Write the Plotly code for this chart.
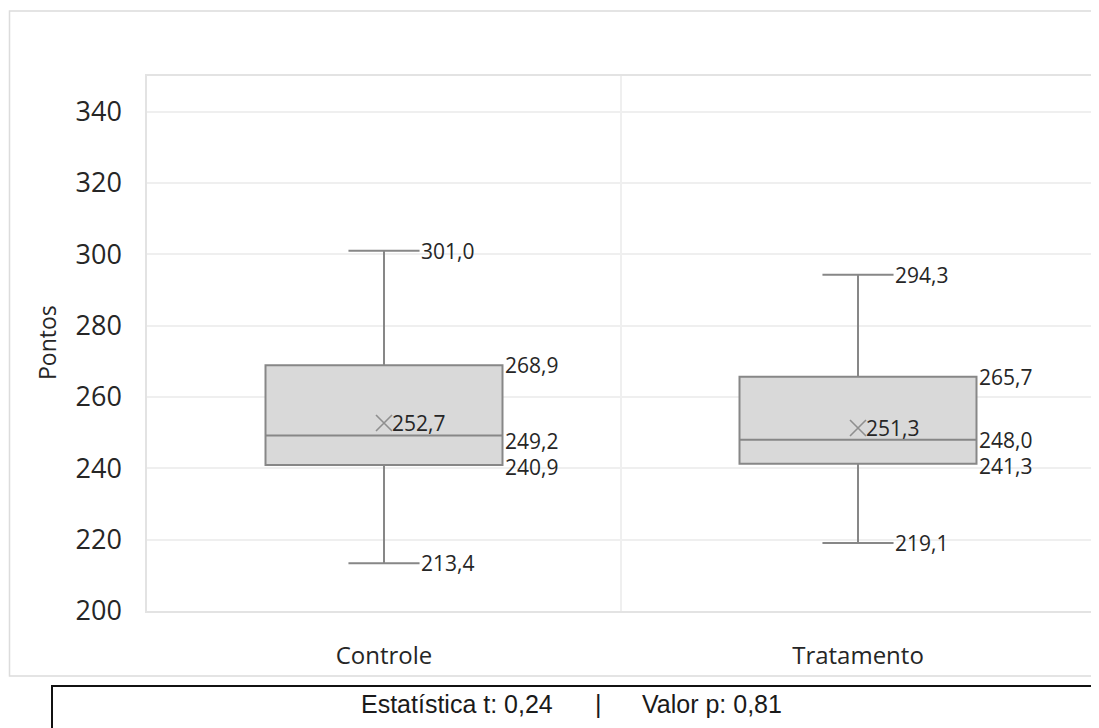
import plotly.graph_objects as go

# ---- data ----
categories = ["Controle", "Tratamento"]
minimo = [213.4, 219.1]
q1 = [240.9, 241.3]
mediana = [249.2, 248.0]
q3 = [268.9, 265.7]
maximo = [301.0, 294.3]
media = [252.7, 251.3]
y_ticks = [200, 220, 240, 260, 280, 300, 320, 340]
stat_left = "Estatística t: 0,24"
stat_right = "Valor p: 0,81"


def fmt(v):
    return f"{v:.1f}".replace(".", ",")


# the page body has an 8px margin; work in page pixels and compensate
OFF = 8
W, H = 1099 - OFF, 728 - OFF
L, R, T, B = 147 - OFF, 4, 76 - OFF, 117
PW, PH = W - L - R, H - T - B


def px(x):
    return (x - OFF - L) / PW


def py(y):
    return (H - B - (y - OFF)) / PH


fig = go.Figure()

fig.add_trace(go.Box(
    x=categories, q1=q1, median=mediana, q3=q3,
    lowerfence=minimo, upperfence=maximo,
    fillcolor="#d9d9d9", line=dict(color="#878787", width=2),
    width=0.5, whiskerwidth=0.3, boxpoints=False, hoverinfo="skip",
    showlegend=False,
))

fig.add_trace(go.Scatter(
    x=categories, y=media, mode="markers",
    marker=dict(symbol="x-thin", size=16, line=dict(color="#8f8f8f", width=1.6)),
    hoverinfo="skip", showlegend=False,
))

lab_font = dict(family="Open Sans", size=21, color="#262626")
med_shift = [-5, 0]
q1_shift = [-2, -2.5]
for i, c in enumerate(categories):
    specs = [
        (maximo[i], 36, 0),
        (q3[i], 120, 0),
        (mediana[i], 120, med_shift[i]),
        (q1[i], 120, q1_shift[i]),
        (minimo[i], 36, 0),
        (media[i], 7, 0),
    ]
    for val, xs, ys in specs:
        fig.add_annotation(x=c, y=val, text=fmt(val), showarrow=False,
                           xanchor="left", yanchor="middle", xshift=xs, yshift=ys,
                           font=lab_font, borderpad=0)

# y axis title
fig.add_annotation(xref="paper", yref="paper", x=px(47), y=py(343), text="Pontos",
                   textangle=-90, showarrow=False,
                   font=dict(family="Open Sans", size=23, color="#262626"),
                   xanchor="center", yanchor="middle")

# outer chart border
fig.add_shape(type="rect", xref="paper", yref="paper",
              x0=px(9.5), x1=px(1097), y0=py(676), y1=py(11),
              line=dict(color="#dcdcdc", width=1.5), layer="below")

# stats box
fig.add_shape(type="rect", xref="paper", yref="paper",
              x0=px(52), x1=px(1093), y0=py(742), y1=py(686),
              line=dict(color="#111111", width=2))
stat_font = dict(family="Liberation Sans", size=25, color="#1a1a1a")
fig.add_annotation(xref="paper", yref="paper", x=px(555), y=py(704), text=stat_left,
                   showarrow=False, xanchor="right", yanchor="middle", font=stat_font)
fig.add_annotation(xref="paper", yref="paper", x=px(598), y=py(704), text="|",
                   showarrow=False, xanchor="center", yanchor="middle", font=stat_font)
fig.add_annotation(xref="paper", yref="paper", x=px(640), y=py(704), text=stat_right,
                   showarrow=False, xanchor="left", yanchor="middle", font=stat_font)

fig.update_layout(
    width=W, height=H,
    margin=dict(l=L, r=R, t=T, b=B, autoexpand=False),
    paper_bgcolor="white", plot_bgcolor="white",
    xaxis=dict(type="category", tickson="boundaries", showgrid=True,
               gridcolor="#efefef", gridwidth=1.5,
               showline=True, linecolor="#e3e3e3", linewidth=1.5, mirror=True,
               ticks="", ticklabelstandoff=22,
               tickfont=dict(family="Open Sans", size=24, color="#262626"),
               range=[-0.5, 1.5]),
    yaxis=dict(range=[200, 350], tickvals=y_ticks, showgrid=True,
               gridcolor="#efefef", gridwidth=1.5,
               showline=True, linecolor="#e3e3e3", linewidth=1.5, mirror=True,
               zeroline=False, ticks="", ticklabelstandoff=18,
               tickfont=dict(family="Open Sans", size=27, color="#262626")),
)

fig.write_html("out.html")
